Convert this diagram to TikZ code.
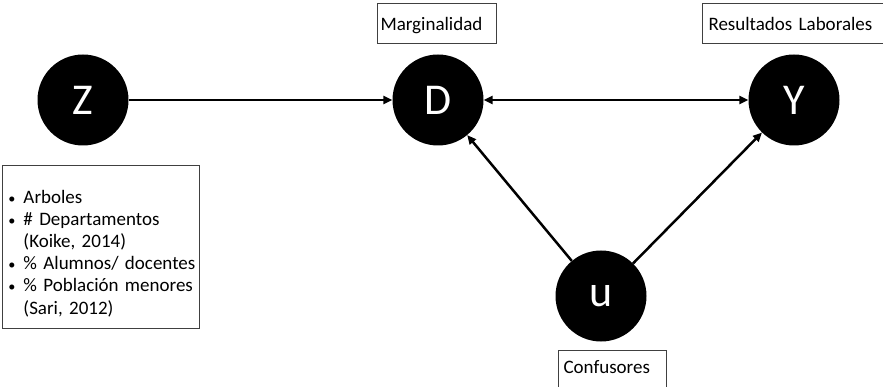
\documentclass[tikz,border=0pt]{standalone}
\usepackage{fontspec}
\setmainfont{Carlito}
\usetikzlibrary{arrows.meta}

\tikzset{
  var/.style={circle,fill=black,minimum size=91pt,inner sep=0pt,text=white,font=\fontsize{44}{44}\selectfont},
  etiqueta/.style={draw=black!75,line width=1pt,anchor=north west,inner ysep=5pt,align=left,font=\fontsize{19}{22.2}\selectfont},
  flecha/.style={-{Triangle[length=9pt,width=8pt]},line width=2.5pt},
  doble/.style={{Triangle[length=9pt,width=8pt]}-{Triangle[length=9pt,width=8pt]},line width=2.5pt}
}
\newcommand{\vineta}{\hspace*{5pt}\makebox[15pt][l]{\scalebox{0.75}{\textbullet}}}

\begin{document}
\begin{tikzpicture}[x=1pt,y=-1pt]
	\useasboundingbox (0,0) rectangle (883,387);
	\node[var] (Z) at (83,100) {Z};% instrumento
	\node[var] (D) at (438,100) {D};% tratamiento
	\node[var] (Y) at (794,100) {Y};% resultado
	\node[var] (u) at (601,296) {u};% no observados
	\node[etiqueta,minimum width=119pt,text height=22pt,text depth=8pt,inner xsep=3pt,text width=113pt] (marg) at (377,3) {Marginalidad};
	\node[etiqueta,minimum width=190pt,text height=22pt,text depth=8pt,inner xsep=6pt,text width=178pt] (res) at (702,3) {Resultados Laborales};
	\node[etiqueta,minimum width=108pt,text height=18pt,text depth=30pt,inner xsep=5pt,text width=98pt] (conf) at (558,350) {Confusores};
	\node[etiqueta,minimum height=163pt,inner xsep=1pt,text width=195pt] (inst) at (2,165) {%
		\rule{0pt}{26pt}\vineta Arboles\\
		\vineta\# Departamentos\\
		\hspace*{20pt}(Koike, 2014)\\
		\vineta\% Alumnos/ docentes\\
		\vineta\% Población menores\\
		\hspace*{20pt}(Sari, 2012)};
	\draw[flecha] (Z) -- (D);
	\draw[doble] (D) -- (Y);
	\draw[flecha] (u) -- (D);
	\draw[flecha] (u) -- (Y);
\end{tikzpicture}
\end{document}
